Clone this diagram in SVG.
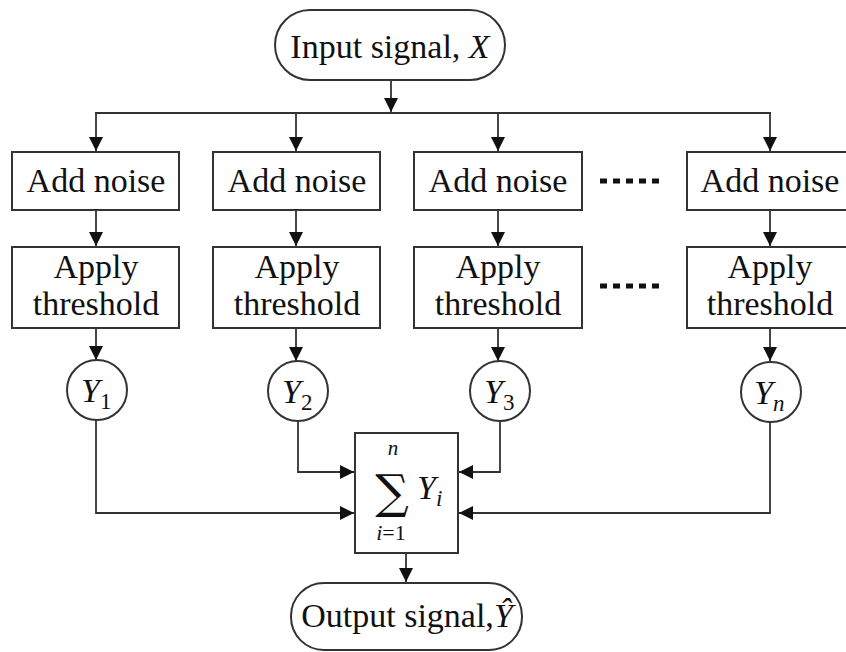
<svg xmlns="http://www.w3.org/2000/svg" width="846" height="652" viewBox="0 0 846 652">
<defs>
<style>
.box{fill:#fff;stroke:#333;stroke-width:2}
.ln{fill:none;stroke:#333;stroke-width:1.8}
.t{font-family:'Liberation Serif','DejaVu Serif','Times New Roman',serif;font-size:34px;fill:#111;text-anchor:middle}
.m{font-family:'Liberation Serif','DejaVu Serif','Times New Roman',serif;font-style:italic;fill:#111}
.dots{fill:none;stroke:#111;stroke-width:5;stroke-dasharray:7 6}
</style>
<marker id="ah" markerUnits="userSpaceOnUse" markerWidth="14" markerHeight="16" refX="14" refY="7" orient="auto">
<path d="M0,0 L14,7 L0,14 Z" fill="#111"/>
</marker>
</defs>
<rect width="846" height="652" fill="#fff"/>

<g id="connectors">
<line class="ln" x1="391" y1="80" x2="391" y2="112" marker-end="url(#ah)"/>
<line class="ln" x1="95" y1="113" x2="771" y2="113"/>
<line class="ln" x1="96" y1="113" x2="96" y2="151" marker-end="url(#ah)"/>
<line class="ln" x1="296" y1="113" x2="296" y2="151" marker-end="url(#ah)"/>
<line class="ln" x1="498" y1="113" x2="498" y2="151" marker-end="url(#ah)"/>
<line class="ln" x1="770" y1="113" x2="770" y2="151" marker-end="url(#ah)"/>
<line class="ln" x1="96" y1="210" x2="96" y2="246" marker-end="url(#ah)"/>
<line class="ln" x1="296" y1="210" x2="296" y2="246" marker-end="url(#ah)"/>
<line class="ln" x1="498" y1="210" x2="498" y2="246" marker-end="url(#ah)"/>
<line class="ln" x1="770" y1="210" x2="770" y2="246" marker-end="url(#ah)"/>
<line class="ln" x1="96" y1="328" x2="96" y2="360" marker-end="url(#ah)"/>
<line class="ln" x1="296" y1="328" x2="296" y2="361" marker-end="url(#ah)"/>
<line class="ln" x1="498" y1="328" x2="498" y2="361" marker-end="url(#ah)"/>
<line class="ln" x1="770" y1="328" x2="770" y2="361" marker-end="url(#ah)"/>
<polyline class="ln" points="96,420 96,513 354,513" marker-end="url(#ah)"/>
<polyline class="ln" points="298,421 298,472 354,472" marker-end="url(#ah)"/>
<polyline class="ln" points="500,421 500,472 459,472" marker-end="url(#ah)"/>
<polyline class="ln" points="770,422 770,513 459,513" marker-end="url(#ah)"/>
<line class="ln" x1="406" y1="553" x2="406" y2="582" marker-end="url(#ah)"/>
<line class="dots" x1="600" y1="181" x2="664" y2="181"/>
<line class="dots" x1="600" y1="286" x2="664" y2="286"/>
</g>

<g id="input">
<rect class="box" x="275" y="10" width="230" height="70" rx="35" ry="35"/>
<text class="t" x="390" y="58">Input signal, <tspan class="m">X</tspan></text>
</g>

<g id="noise1"><rect class="box" x="12" y="152" width="167" height="58"/><text class="t" x="96" y="192">Add noise</text></g>
<g id="noise2"><rect class="box" x="213" y="152" width="167" height="58"/><text class="t" x="297" y="192">Add noise</text></g>
<g id="noise3"><rect class="box" x="414" y="152" width="168" height="58"/><text class="t" x="498" y="192">Add noise</text></g>
<g id="noise4"><rect class="box" x="687" y="152" width="167" height="58"/><text class="t" x="770" y="192">Add noise</text></g>

<g id="thresh1"><rect class="box" x="12" y="247" width="167" height="81"/><text class="t" x="96" y="278">Apply</text><text class="t" x="96" y="315">threshold</text></g>
<g id="thresh2"><rect class="box" x="213" y="247" width="167" height="81"/><text class="t" x="297" y="278">Apply</text><text class="t" x="297" y="315">threshold</text></g>
<g id="thresh3"><rect class="box" x="414" y="247" width="168" height="81"/><text class="t" x="498" y="278">Apply</text><text class="t" x="498" y="315">threshold</text></g>
<g id="thresh4"><rect class="box" x="687" y="247" width="167" height="81"/><text class="t" x="770" y="278">Apply</text><text class="t" x="770" y="315">threshold</text></g>

<g id="y1"><circle class="box" cx="97" cy="390" r="30" stroke-width="1.6"/><text class="m" x="81" y="402" font-size="34">Y<tspan font-style="normal" font-size="23" dy="7">1</tspan></text></g>
<g id="y2"><circle class="box" cx="298" cy="391" r="30" stroke-width="1.6"/><text class="m" x="282" y="403" font-size="34">Y<tspan font-style="normal" font-size="23" dy="7">2</tspan></text></g>
<g id="y3"><circle class="box" cx="500" cy="391" r="30" stroke-width="1.6"/><text class="m" x="484" y="403" font-size="34">Y<tspan font-style="normal" font-size="23" dy="7">3</tspan></text></g>
<g id="yn"><circle class="box" cx="771" cy="392" r="30" stroke-width="1.6"/><text class="m" x="754" y="404" font-size="34">Y<tspan font-size="23" dy="7">n</tspan></text></g>

<g id="sum">
<rect class="box" x="355" y="433" width="103" height="120"/>
<text x="392" y="508" font-family="'DejaVu Serif',serif" font-size="47" text-anchor="middle" fill="#111">∑</text>
<text class="m" x="393" y="455" font-size="21" text-anchor="middle">n</text>
<text class="m" x="391" y="540" font-size="22" text-anchor="middle">i<tspan font-style="normal">=1</tspan></text>
<text class="m" x="417" y="499" font-size="34">Y<tspan font-size="23" dy="7">i</tspan></text>
</g>

<g id="output">
<rect class="box" x="291" y="583" width="231" height="67" rx="33" ry="33"/>
<text class="t" x="407" y="627">Output signal,<tspan class="m">Ŷ</tspan></text>
</g>
</svg>
